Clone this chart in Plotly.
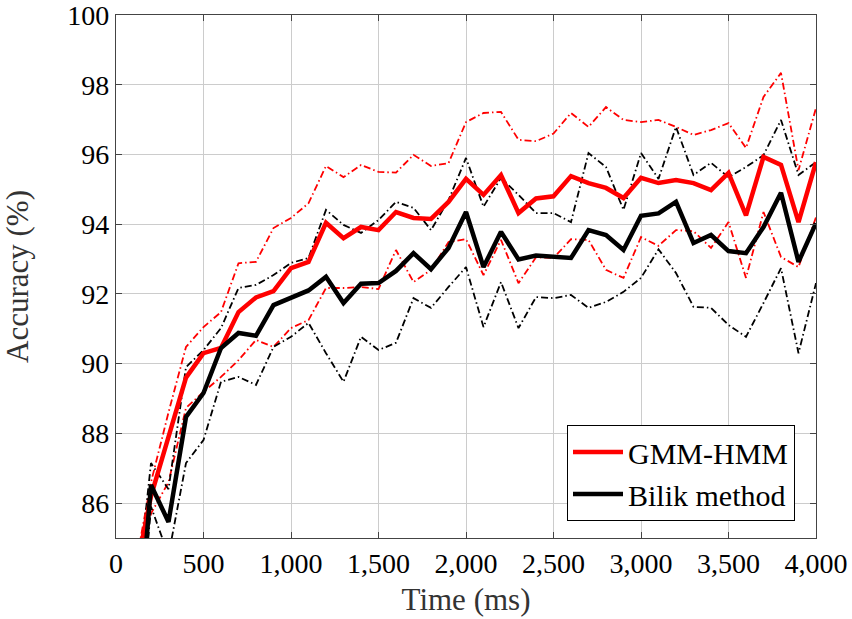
import plotly.graph_objects as go

time_ms = [100, 200, 300, 400, 500, 600, 700, 800, 900, 1000,
           1100, 1200, 1300, 1400, 1500, 1600, 1700, 1800, 1900, 2000,
           2100, 2200, 2300, 2400, 2500, 2600, 2700, 2800, 2900, 3000,
           3100, 3200, 3300, 3400, 3500, 3600, 3700, 3800, 3900, 4000]

gmm_mean = [83.7, 86.2, 87.9, 89.6, 90.3, 90.45, 91.48, 91.9, 92.08, 92.74,
            92.92, 94.04, 93.6, 93.92, 93.83, 94.35, 94.18, 94.15, 94.64, 95.3,
            94.84, 95.41, 94.32, 94.74, 94.8, 95.38, 95.18, 95.04, 94.75, 95.33,
            95.18, 95.27, 95.18, 94.98, 95.47, 94.25, 95.93, 95.7, 94.06, 95.78]
gmm_upper = [83.9, 86.6, 88.6, 90.48, 91.05, 91.48, 92.88, 92.92, 93.89, 94.18,
             94.6, 95.67, 95.35, 95.7, 95.5, 95.48, 95.99, 95.67, 95.75, 96.93,
             97.19, 97.22, 96.42, 96.38, 96.6, 97.19, 96.79, 97.36, 96.99, 96.93,
             96.99, 96.79, 96.56, 96.7, 96.9, 96.19, 97.65, 98.34, 95.55, 97.33]
gmm_lower = [83.2, 85.7, 86.6, 88.73, 89.19, 89.62, 90.1, 90.68, 90.48, 91.02,
             91.25, 92.17, 92.17, 92.2, 92.14, 93.26, 92.34, 92.69, 93.49, 93.57,
             92.54, 93.55, 92.31, 93.05, 93.03, 93.57, 93.55, 92.69, 92.46, 93.63,
             93.38, 93.83, 93.8, 93.32, 94.06, 92.46, 94.35, 93.06, 92.77, 94.2]

bilik_mean = [80.4, 86.52, 85.46, 88.47, 89.16, 90.45, 90.88, 90.8, 91.68, 91.9,
              92.1, 92.49, 91.74, 92.29, 92.31, 92.66, 93.17, 92.71, 93.32, 94.35,
              92.77, 93.78, 92.99, 93.1, 93.06, 93.03, 93.83, 93.69, 93.26, 94.24,
              94.31, 94.64, 93.46, 93.69, 93.23, 93.17, 93.92, 94.9, 92.92, 94.03]
bilik_upper = [82.5, 87.15, 86.4, 89.9, 90.39, 91.02, 92.17, 92.26, 92.54, 92.89,
               93.03, 94.41, 93.98, 93.75, 94.12, 94.64, 94.47, 93.83, 94.69, 95.9,
               94.5, 95.33, 94.84, 94.32, 94.32, 94.06, 96.04, 95.64, 94.41, 96.04,
               95.3, 96.79, 95.41, 95.76, 95.35, 95.64, 95.98, 96.99, 95.41, 95.78]
bilik_lower = [80.0, 85.9, 84.5, 87.15, 87.81, 89.48, 89.62, 89.39, 90.48, 90.77,
               91.17, 90.3, 89.48, 90.77, 90.39, 90.6, 91.88, 91.6, 92.2, 92.77,
               91.05, 92.34, 91.02, 91.91, 91.88, 91.97, 91.6, 91.77, 92.06, 92.46,
               93.28, 92.6, 91.63, 91.6, 91.11, 90.77, 91.74, 92.74, 90.3, 92.31]

x_ticks = [0, 500, 1000, 1500, 2000, 2500, 3000, 3500, 4000]
y_ticks = [86, 88, 90, 92, 94, 96, 98, 100]

RED = "#ff0000"
BLACK = "#000000"
DASHDOT = "7px,3px,1.5px,3px"
FONT = "Liberation Serif, Times New Roman, serif"

fig = go.Figure()

fig.add_trace(go.Scatter(x=time_ms, y=gmm_upper, mode="lines", showlegend=False,
                         line=dict(color=RED, width=1.8, dash=DASHDOT)))
fig.add_trace(go.Scatter(x=time_ms, y=gmm_lower, mode="lines", showlegend=False,
                         line=dict(color=RED, width=1.8, dash=DASHDOT)))
fig.add_trace(go.Scatter(x=time_ms, y=bilik_upper, mode="lines", showlegend=False,
                         line=dict(color=BLACK, width=1.8, dash=DASHDOT)))
fig.add_trace(go.Scatter(x=time_ms, y=bilik_lower, mode="lines", showlegend=False,
                         line=dict(color=BLACK, width=1.8, dash=DASHDOT)))
fig.add_trace(go.Scatter(x=time_ms, y=gmm_mean, mode="lines", name="GMM-HMM",
                         line=dict(color=RED, width=4.5)))
fig.add_trace(go.Scatter(x=time_ms, y=bilik_mean, mode="lines", name="Bilik method",
                         line=dict(color=BLACK, width=4.5)))

axis_common = dict(
    showgrid=True, gridcolor="#cccccc", gridwidth=1,
    showline=True, linecolor="#444444", linewidth=1.2, mirror="ticks",
    ticks="inside", ticklen=6, tickcolor="#444444",
    zeroline=False, automargin=False, ticklabeloverflow="allow",
    tickfont=dict(family=FONT, size=28, color="#000000"),
)

fig.update_xaxes(range=[0, 4000], tickvals=x_ticks, tickformat=",d",
                 title=dict(text="Time (ms)", font=dict(family=FONT, size=31, color="#333333"),
                            standoff=10),
                 **axis_common)
fig.update_yaxes(range=[85, 100], tickvals=y_ticks,
                 title=dict(text="Accuracy (%)", font=dict(family=FONT, size=31, color="#333333"),
                            standoff=33),
                 **axis_common)

fig.update_layout(
    width=852, height=619,
    margin=dict(l=116, r=36, t=15, b=81),
    plot_bgcolor="white", paper_bgcolor="white",
    font=dict(family=FONT, size=28, color="#000000"),
    legend=dict(x=0.97, y=0.0325, xanchor="right", yanchor="bottom",
                bgcolor="white", bordercolor="#000000", borderwidth=1,
                font=dict(family=FONT, size=30, color="#000000"),
                itemwidth=50, tracegroupgap=0),
)

fig.write_html("out.html",
               config={"displayModeBar": False},
               post_script="document.body.style.margin='0';document.body.style.overflow='hidden';")
